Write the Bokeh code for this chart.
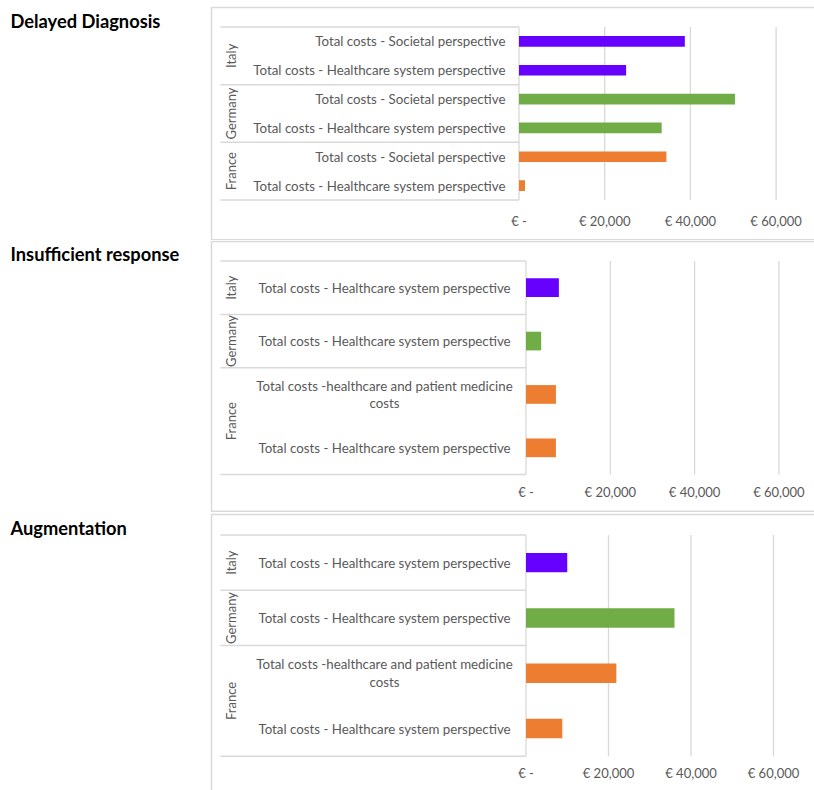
import textwrap
from math import pi

from bokeh.plotting import figure
from bokeh.models import Range1d, FixedTicker, ColumnDataSource
from bokeh.layouts import column
from bokeh.core.properties import value
from bokeh.embed import file_html
from bokeh.resources import INLINE

# ---------------- data ----------------
panel_titles = ["Delayed Diagnosis", "Insufficient response", "Augmentation"]

# rows listed bottom -> top
dd_countries = ["France", "France", "Germany", "Germany", "Italy", "Italy"]
dd_items = ["Total costs - Healthcare system perspective",
            "Total costs - Societal perspective",
            "Total costs - Healthcare system perspective",
            "Total costs - Societal perspective",
            "Total costs - Healthcare system perspective",
            "Total costs - Societal perspective"]
dd_values = [1400, 34400, 33300, 50400, 25000, 38700]

ir_countries = ["France", "France", "Germany", "Italy"]
ir_items = ["Total costs - Healthcare system perspective",
            "Total costs -healthcare and patient medicine costs",
            "Total costs - Healthcare system perspective",
            "Total costs - Healthcare system perspective"]
ir_values = [7100, 7100, 3600, 7800]

aug_countries = ["France", "France", "Germany", "Italy"]
aug_items = ["Total costs - Healthcare system perspective",
             "Total costs -healthcare and patient medicine costs",
             "Total costs - Healthcare system perspective",
             "Total costs - Healthcare system perspective"]
aug_values = [8800, 21900, 36000, 10000]

tick_values = [0, 20000, 40000, 60000]
tick_labels = ["€ -", "€ 20,000", "€ 40,000", "€ 60,000"]

country_colors = {"France": "#ED7D31", "Germany": "#70AD47", "Italy": "#6600FF"}

# ---------------- styling / layout (pixels) ----------------
FONT = "Lato"
TXT = "#595959"
LINE = "#D9D9D9"
W = 814

layouts = [
    dict(H=240, box_l=211, box_t=7, box_b=239.3, tab_l=220, tab_t=26.5, tab_b=199.5,
         zero=518.5, d20=85.7, align="right", lab_x=505, country_x=230,
         title_y=20, standoff=-28, bh=0.37),
    dict(H=272, box_l=211, box_t=1, box_b=270.7, tab_l=220, tab_t=20.5, tab_b=234,
         zero=525.5, d20=84.3, align="center", lab_x=384, country_x=230,
         title_y=13, standoff=-29, bh=0.35),
    dict(H=278, box_l=211, box_t=2, box_b=None, tab_l=220, tab_t=22.5, tab_b=243.7,
         zero=525.5, d20=82.5, align="center", lab_x=384, country_x=230,
         title_y=15, standoff=-26, bh=0.35),
]

datasets = [(dd_countries, dd_items, dd_values),
            (ir_countries, ir_items, ir_values),
            (aug_countries, aug_items, aug_values)]


def make_panel(title, countries, items, values, L):
    n = len(values)
    H = L["H"]
    per = 20000.0 / L["d20"]
    x0 = -L["zero"] * per
    x1 = (W - L["zero"]) * per
    row_px = (L["tab_b"] - L["tab_t"]) / n
    y0 = -0.5 - (H - L["tab_b"]) / row_px
    y1 = n - 0.5 + L["tab_t"] / row_px

    p = figure(width=W, height=H, output_backend="svg", toolbar_location=None,
               x_range=Range1d(x0, x1), y_range=Range1d(y0, y1),
               y_axis_location=None, min_border_left=0, min_border_right=0,
               min_border_top=0, min_border_bottom=0)
    p.extra_x_ranges = {"px": Range1d(0, W)}
    p.extra_y_ranges = {"px": Range1d(H, 0)}
    p.outline_line_color = None
    p.background_fill_color = "white"
    p.border_fill_color = "white"
    p.xgrid.visible = False
    p.ygrid.visible = False

    ax = p.xaxis[0]
    ax.ticker = FixedTicker(ticks=tick_values)
    ax.major_label_overrides = {v: s for v, s in zip(tick_values, tick_labels)}
    ax.axis_line_color = None
    ax.major_tick_line_color = None
    ax.minor_tick_line_color = None
    ax.major_tick_out = 0
    ax.major_tick_in = 0
    ax.major_label_standoff = L["standoff"]
    ax.major_label_text_font = FONT
    ax.major_label_text_font_size = "13px"
    ax.major_label_text_color = TXT

    # outer panel frame
    bx0, by0 = L["box_l"], L["box_t"]
    xs = [[W + 5, bx0, bx0]]
    ys = [[by0, by0, L["box_b"] if L["box_b"] is not None else H + 5]]
    if L["box_b"] is not None:
        xs[0].append(W + 5)
        ys[0].append(L["box_b"])
    p.multi_line(xs=xs, ys=ys, line_color=LINE, line_width=1.5,
                 x_range_name="px", y_range_name="px")

    # gridlines over the table height
    p.segment(x0=tick_values, x1=tick_values, y0=[-0.5] * len(tick_values),
              y1=[n - 0.5] * len(tick_values), line_color=LINE, line_width=1.3)

    # table lines at group boundaries
    bounds = [-0.5]
    for i in range(1, n):
        if countries[i] != countries[i - 1]:
            bounds.append(i - 0.5)
    bounds.append(n - 0.5)
    m = len(bounds)
    p.segment(x0=[L["tab_l"]] * m, x1=[L["zero"]] * m, y0=bounds, y1=bounds,
              line_color=LINE, line_width=1.5, x_range_name="px")

    idx = list(range(n))
    src = ColumnDataSource(dict(
        y=idx, right=values, left=[0] * n, lx=[L["lab_x"]] * n,
        color=[country_colors[c] for c in countries],
        label=[textwrap.fill(s, 45) for s in items]))

    p.hbar(y="y", left="left", right="right", height=L["bh"], color="color",
           line_color=None, source=src)

    p.text(x="lx", y="y", text="label", source=src, x_range_name="px",
           text_align=L["align"], text_baseline="middle", text_font=value(FONT),
           text_font_size="13.3px", text_color=TXT, text_line_height=1.1)

    groups = []
    for c in countries:
        if c not in groups:
            groups.append(c)
    centers = [sum(i for i in idx if countries[i] == g) / countries.count(g) for g in groups]
    p.text(x=[L["country_x"]] * len(groups), y=centers, text=groups, angle=pi / 2,
           x_range_name="px", text_align="center", text_baseline="middle",
           text_font=value(FONT), text_font_size="13px", text_color=TXT)

    # panel title
    p.text(x=[10], y=[L["title_y"]], text=[title], x_range_name="px", y_range_name="px",
           text_align="left", text_baseline="middle", text_font=value(FONT),
           text_font_size="18.3px", text_font_style="bold", text_color="#000000")
    return p


figs = [make_panel(t, *d, L) for t, d, L in zip(panel_titles, datasets, layouts)]
page = column(*figs, spacing=0)

open("out.html", "w").write(file_html(page, INLINE))
